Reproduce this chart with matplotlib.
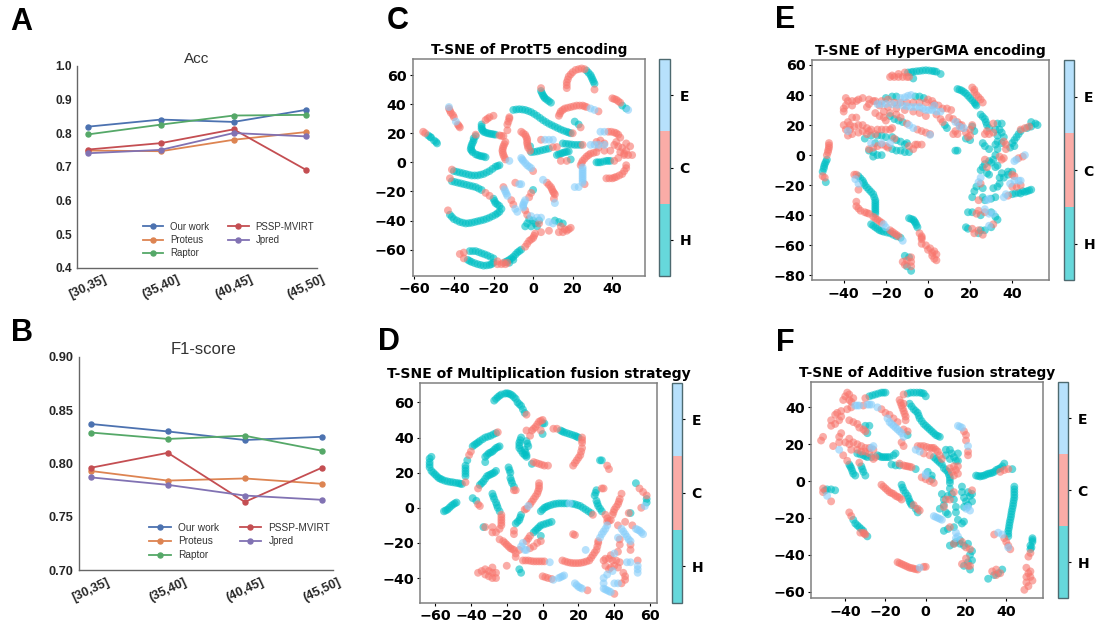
import numpy as np
import matplotlib
matplotlib.use('Agg')
import matplotlib.pyplot as plt
from matplotlib.colors import ListedColormap

W, H = 1095, 626

# line charts
bins = ['[30,35]', '(35,40]', '(40,45]', '(45,50]']
methods = ['Our work', 'Proteus', 'Raptor', 'PSSP-MVIRT', 'Jpred']
line_colors = ['#4C72B0', '#DD8452', '#55A868', '#C44E52', '#8172B3']
acc_our = [0.819, 0.840, 0.833, 0.869]
acc_proteus = [0.748, 0.746, 0.780, 0.803]
acc_raptor = [0.796, 0.825, 0.852, 0.854]
acc_pssp = [0.751, 0.770, 0.811, 0.690]
acc_jpred = [0.740, 0.750, 0.800, 0.790]
f1_our = [0.837, 0.830, 0.822, 0.825]
f1_proteus = [0.793, 0.784, 0.786, 0.781]
f1_raptor = [0.829, 0.823, 0.826, 0.812]
f1_pssp = [0.796, 0.810, 0.764, 0.796]
f1_jpred = [0.787, 0.780, 0.770, 0.766]

# t-SNE panel C
c_h = [(-53,18.5),(-51.5,17),(-50,15),(-48.5,13),(-29,18),(-30,15),(-31,12),(-31.5,9),(-30.5,7),(-29,5.5),(-27,4.5),(-25,4),(-24,3.5),
       (-26,26),(-26,23),(-25,21),(-23,20),(-21,19.5),(-19,19),(-10,36),(-7,36.5),(-4,36),(-1,34.5),(2,32),(5,29),(8,26.5),(11,24.5),(14,22.5),(17,21),(19,20),
       (-1,7),(2,7.5),(5,8.5),(8,9.5),(-1.5,11),(15,13),(18,12.5),(21,12),(24,12),(27,63),(29,60),(30,57),(31,54),(4,49),(5,46),(6,44),(8,42),(9,41),
       (21,28),(23,26),(45,39),(47,37),(32,0),(34,0),(37,1),(39,1),(12,5),(14,6),(16,7),(18,7.5),(19,2),
       (-40,-6),(-37,-7),(-34,-8),(-31,-9),(-28,-9),(-25,-8),(-22,-6),(-19,-3),(-17,-2),(-41,-13),(-38,-14),(-35,-15),(-32,-16),(-29,-17),(-26,-19),
       (-20,-25),(-19,-28),(-17,-30),(-16,-32),(-42,-36),(-40,-39),(-37,-41),(-34,-42),(-31,-41.5),(-28,-40.5),(-25,-39.5),(-22,-38),(-19,-36),(-17,-34),
       (0,-19),(-2,-39),(0,-40),(-3,-42),(-1,-44),(1,-42),(-4,-44),(2,-44),(3,-40),(11,-40),(13,-41),(15,-42),
       (-6,-60),(-8,-62),(-10,-65),(-12,-67),(-14,-68.5),(-32,-61),(-29,-61),(-26,-62.5),(-23,-64),(-20,-66),(-33,-67),(-31,-68.5),(-28,-70),(-25,-71),(-22,-70.5),(-20,-69),(-12,-69),(-10,-67),
       (-52,17.5),(-49,14),(-30,16.5),(-30.5,13.5),(-31.3,10.5),(-31,8),(-28,5),(-26,4.2),(-26,24.5),(-25.5,22),(-24,20.5),(-22,19.7),(-20,19.2),(-8.5,36.3),(-5.5,36.3),(-2.5,35.3),(0.5,33.3),(3.5,30.5),(6.5,27.7),(9.5,25.5),(12.5,23.5),(15.5,21.7),(18,20.5),
       (0.5,7.2),(3.5,8),(6.5,9),(16.5,12.7),(19.5,12.2),(22.5,12),(28,61.5),(29.5,58.5),(30.5,55.5),(4.5,47.5),(5.5,45),(7,43),(33,0),(35.5,0.5),(38,1),(13,5.5),(15,6.5),(17,7.2),
       (-38.5,-6.5),(-35.5,-7.5),(-32.5,-8.5),(-29.5,-9),(-26.5,-8.5),(-23.5,-7),(-20.5,-4.5),(-18,-2.5),(-39.5,-13.5),(-36.5,-14.5),(-33.5,-15.5),(-30.5,-16.5),(-27.5,-18),(-19.5,-26.5),(-18,-29),
       (-41,-37.5),(-38.5,-40),(-35.5,-41.5),(-32.5,-41.8),(-29.5,-41),(-26.5,-40),(-23.5,-38.8),(-20.5,-37),(-18,-35),(-7,-61),(-9,-63.5),(-11,-66),(-13,-67.8),(-30.5,-61),(-27.5,-61.7),(-24.5,-63.2),(-21.5,-65),(-32,-67.8),(-29.5,-69.3),(-26.5,-70.5),(-23.5,-70.8),(-21,-70)]
c_c = [(-55.5,21),(-54.5,20),(-42.5,37),(-41.5,34),(-40,31),(-38,26),(-37,24),(-29,19),(-20,32),(-22,31),(-24,29),(-17,18.5),(-15,18),(-12,30),(-13,26),(-13,22),(-12,31),
       (-14,14),(-15,11),(-15.5,8),(-15,5),(-14,2),(20,20),(-6,21),(-4,19),(-3,16),(-3,13),(-2.5,10),(-1.5,8),(10,10.5),(12,10.5),(4,15.5),(25,12),
       (17,51),(17,55),(18,59),(20,62),(23,64),(26,64),(31,50),(4,51),(13,32),(14,35),(16,37),(19,38),(22,39),(25,39),(27,38),(33,35),(24,24),(40,44),(42,43),(44,41),
       (38,21),(41,20.5),(43,19),(44,17),(32,14),(34,15),(36,13),(33,10),(36,8),(39,8),(41,12),(43,11),(45,10),(47,8),(44,7),(46,5),(48,5),(50,5),(49,11),(47,13),(42,14),(46,6),(41,1),(43,3),
       (37,-11),(40,-11),(42,-10),(45,-8),(47,-4),(47,-2),(32,7),(29,6),(27,4),(25,1),(24,-2),(26,-15),(14,1),(17,1),(0,-6),(-41,-5),(-42,-11),(-24,-21),(-22,-23),(-43,-33),
       (-15,-17),(-11,-26),(-10,-29),(-9,-14),(7,-14),(9,-17),(10,-20),(11,-22),(10.5,-25),(-1,-21),(-2,-24),(-4,-33),(-3,-36),
       (3,-42),(14,-44),(16,-46),(18,-46),(13,-48),(15,-48),(19,-45),(17,-47),(8,-47),(4,-48),(1,-49),(0,-52),(-2,-54),(-4,-58),
       (-37,-63),(-35,-62),(-18,-68),(-15,-69),(-13,-69),(-35,-66),(-18,-70),(-16,-70),(-14,-70),
       (-42,35.5),(-40.5,32.5),(-37.5,25),(-23,30),(-16,18.2),(-12.5,28),(-14.5,12.5),(-15.3,9.5),(-15.3,6.5),(-14.5,3.5),(-5,20),(-3.5,17.5),(-3,14.5),(-2.7,11.5),(17,53),(17.5,57),(19,60.5),(21.5,63.5),(24.5,64.5),
       (13.5,33.5),(15,36),(17.5,37.5),(20.5,38.5),(23.5,39),(26,38.5),(41,43.5),(43,42),(39.5,21),(42,20),(28,5),(26,2.5),(24.5,-0.5),(30.5,6.5),(38.5,-11),(41,-10.5),(43.5,-9),(46,-6),
       (8,-15.5),(9.5,-18.5),(10.5,-21),(0.5,-50.5),(-1,-53),(-3,-56)]
c_e = [(-42.5,38),(-39,28),(-12,1),(6,15.5),(8,15.5),(10,15.5),(29,37),(31,36),(48,36),(34,21),(36,21),(29,12),(31,12),(33,12),(36,12),(25,-5),(25,-8),(25,-11),(25,-14),(21,-17),(23,-17),
       (-6,3),(-5,1),(-3,-2),(-1,-4),(-14,-20),(-13,-23),(-9,-32),(-8,-34),(-7,-15),(-6,-15),(5,-12),(11,-28),(-4,-26),(-5,-29),(-5,-31),(-1,-37),(2,-38),(4,-38),(8,-41),(10,-42),
       (25,-3.5),(25,-6.5),(25,-9.5),(25,-12.5),(-4,-0.5),(-2,-3),(-5.5,2),(-14.5,-18.5),(-13.5,-21.5),(-4.5,-27.5),(-5,-30)]

# t-SNE panel E
e_h = [(-9.5,55),(-7,55.5),(-4,56),(-1,56.5),(2,56),(4,55.5),(6,54),(-7,51),(14,44),(16,43),(18,41),(20,38),(22,35),(23,33),(25,27),(27,24),(28,20),(29,18),(26,8),(27,6),(29,4),
       (49,19),(51,21),(52,20),(49,22),(47,18),(43,14),(42,12),(41,10),(40,8),(39,5),(41,6),(44,16),(33,21),(35,21),(32,17),(34,17),(33,13),(35,15),(36,12),(33,9),(35,8),(32,7),
       (33,4),(32,0),(31,-3),(33,-7),(29,-4),(27,-6),(26,-8),(25,-10),(32,-8),(30,-5),(28,-12),(29,-13),(34,-15),(35,-12),(38,-11),(40,-11),(36,-15),(38,-13),(31,-22),(33,-21),(34,-19),
       (40,-26),(43,-25),(45,-24),(47,-24),(49,-23),(22,-24),(21,-28),(23,-21),(26,-22),(26,-28),(27,-30),(30,-29),(32,-28),(19,-38),(21,-38),(25,-40),(30,-38),(32,-41),(33,-43),
       (18,-48),(19,-49),(25,-50),(24,-52),(27,-50),(30,-48),(-48,-3),(-49,-6),(-49.5,-9),(-50,-11),(-48.5,-18),(-33,-14),(-31,-17),(-30,-20),(-28,-23),(-26,-26),(-25,-30),(-25,-33),(-25,-36),(-25,-39),
       (-27,-46),(-25,-48),(-23,-50),(-21,-51),(-18,-52),(-15,-54),(-13,-55),(-9,-42),(-7,-43),(-6,-45),(-5,-48),(-11,-67),(-9,-68),(-10,-74),(-8,-77),
       (-20,38),(-17,39),(-15,39),(-6,39),(-4,39),(-2,38),(8,20),(9,18),(18,11),(20,10),(22,16),(21,19),(13,3),(14,3),(-18,26),(-16,24),(-14,23),(-12,22),
       (-30,11),(-27,13),(-24,13),(-22,13),(-20,12),(-17,12),(-15,10),(-13,9),(-11,7),(-10,8),(-17,4),(-15,3),(-13,3),(-11,2),(-9,2),(-28,3),(-26,2),(-24,0),(-22,0),(-26,-1),(-25,8),
       (-8,55.2),(-5.5,55.8),(-2.5,56.3),(0.5,56.3),(3,55.8),(15,43.5),(17,42),(19,39.5),(21,36.5),(22.5,34),(26,25.5),(27.5,22),(-48.5,-4.5),(-49.3,-7.5),(-32,-15.5),(-30.5,-18.5),(-29,-21.5),(-27,-24.5),(-25.5,-28),(-25,-31.5),(-25,-34.5),(-25,-37.5),
       (-26,-47),(-24,-49),(-22,-50.5),(-19.5,-51.5),(-16.5,-53),(-8,-42.5),(-6.5,-44),(-5.5,-46.5),(44,-25.5),(46,-24.5),(48,-23.5),(41.5,-25.5)]
e_c = [(-18,52),(-16,52),(-14,52),(-12,52),(-10,52),(-17,53),(-14,54),(-11,55),(-9,52),(21,45),(22,42),(23,40),(25,37),(26,35),(28,16),(27,14),(44,17),(46,18),(48,19),(31,21),(31,15),(36,9),(37,7),(37,4),(29,14),
       (35,-3),(36,-2),(34,-1),(43,-2),(45,-1),(27,-3),(28,-8),(40,-13),(41,-14),(44,-20),(42,-21),(40,-21),(38,-27),(25,-19),(24,-30),(23,-39),(27,-38),(24,-37),(31,-46),(21,-49),(22,-52),(26,-53),(24,-50),
       (-47,8),(-47,5),(-47.5,2),(-48,0),(-50,-14),(-49,-15),(-35,-13),(-34,-13),(-33,-23),(-34,-31),(-34,-34),(-32,-37),(-30,-38),(-28,-39),(-26,-41),(-24,-43),(-22,-45),(-18,-50),(-16,-52),(-14,-54),
       (-4,-52),(-3,-54),(-3,-56),(-3,-59),(-1,-60),(1,-62),(3,-64),(4,-66),(2,-67),(3,-69),(4,-70),(0,-63),(2,-65),(-12,-71),(-10,-70),(-8,-71),(-8,-74),(-11,-73),(-8,-68),
       (-39,38),(-38,36),(-39,33),(-40,31),(-40,29),(-36,36),(-34,36),(-33,37),(-31,38),(-36,33),(-28,37),(-28,34),(-29,32),(-26,36),(0,37),(2,36),(3,34),(5,33),(7,31),(9,31),(11,30),
       (-25,36),(-22,36),(-19,37),(-16,35),(-13,35),(-10,35),(-7,35),(-4,35),(-1,35),(2,33),(-23,33),(-19,32),(-15,31),(-11,30),(-7,29),(-4,28),(-1,26),(-18,28),(-15,27),(-13,25),
       (4,27),(6,24),(7,22),(10,25),(12,24),(14,22),(15,20),(16,18),(12,14),(13,16),(14,14),(16,20),(20,17),(20,13),(18,15),(19,12),(21,20),
       (-25,28),(-23,26),(-21,25),(-20,23),(-21,29),(-10,21),(-5,17),(-3,16),(-1,15),(1,14),(-40,20),(-38,22),(-36,25),(-34,25),(-37,20),(-39,17),(-37,17),(-35,19),(-33,20),(-31,20),(-29,18),(-27,17),(-24,17),(-22,17),(-20,17),
       (-33,15),(-31,16),(-29,14),(-28,16),(-25,14),(-36,14),(-38,13),(-28,4),(-26,5),(-24,6),(-22,7),(-20,6),(-19,5),(-16,11),(-9,6),(-7,4),(-6,7),(-5,7),(-3,7),(-18,17),(-17,18),
       (22,43.5),(24,38.5),(-47,6.5),(-47.3,3.5),(-33,-35.5),(-29,-38.5),(-25,-42),(-23,-44),(-17,-51),(-15,-53),(-3,-55)]
e_e = [(41,-4),(46,0),(42,-3),(39,-19),(43,-17),(41,-17),(37,-26),(44,-17),(36,-28),(25,-15),(24,-18),(28,-30),(29,-29),(27,-36),(29,-39),(31,-39),(29,-47),(-34.5,-16),(-33,-19),(-21,-46),(-20,-48),(-12,-57),
       (-13,38),(-8,40),(-24,34),(-20,34),(-17,34),(-12,33),(-8,32),(-4,32),(-1,30),(2,30),(3,33),(4,29),(6,29),(13,22),(15,19),(17,18),(-9,20),(-7,18),(1,13.5),(-38,16),(-27,8),(-22,8),(-18,8),
       (-22,34),(-14.5,33.5),(-10,32.5),(-6,32),(-2.5,31),(0.5,30),(-11,38.5),(-9.5,39.5)]

# t-SNE panel D
d_h = [(-27,61),(-25,63),(-23,64.5),(-21,65),(-19,65),(-17,64),(-15,62),(-14,60),(-12,58),(-11,56),(-10,54),(-62,29),(-63,26),(-63,23),(-62,21),(-60,19),(-58,17),(-56,16),(-53,15),(-50,14.5),(-47,14),(-45,13.5),
       (-43,18),(-43,21),(-43,24),(-42,27),(-39,35),(-37,36.5),(-35,38),(-32,40),(-29,41),(-26,42.5),(-32,26),(-32,29),(-30,31),(-28,32),(-26,34),(-24,35),(-35,13),(-33,15),(-31,18),(-29,19),(-27,20),(-26,21),
       (-19,23),(-18,20),(-18,17),(-17,14),(-16,12),(-55,-2),(-53,-1),(-51,1),(-49,2.5),(-48,3),(-39,5.5),(-37,4),(-28,8),(-27,5),(-26,3),(-25,0),(-24,-2),(-33,-11),
       (-12,40),(-13,37),(-13,34),(-11,31),(-9,29),(-8,35),(-9,38),(-10,33),(-9,30),(0,48),(1,48),(0,42),(-6,25),(10,44),(12,43),(15,42),(18,41),(20,40),(32,27),(33,27),(30,10),(29,7),(30,4),(31,1),(33,-2),
       (-12,-4),(-13,-7),(-15,-9),(-1,-2),(1,0),(3,1),(6,2),(9,2.5),(12,2.5),(18,2),(21,1),(24,-1),(27,-3),(5,-8),(2,-9),(-1,-10),(-3,-12),(-5,-14),(-1,-16),(-13,-35),(-12,-37),(52,14),(58,5),(58,3),(49,-3),
       (-26,62),(-24,63.8),(-20,65.2),(-18,64.6),(-16,63),(-13,59),(-63,28),(-63,24.5),(-61,20),(-59,18),(-57,16.5),(-54.5,15.4),(-51.5,14.7),(-48.5,14.2),(-46,13.7),(-43,19.5),(-43,22.5),(-38,35.8),(-36,37.2),(-33.5,39),(-30.5,40.5),(-27.5,41.8),
       (-31,30),(-29,31.5),(-27,33),(-25,34.5),(-34,14),(-32,16.5),(-30,18.5),(-28,19.5),(-18.5,21.5),(-17.5,15.5),(-54,-1.5),(-52,0),(-50,1.8),(-27.5,6.5),(-25.5,1.5),(-12.5,38.5),(-13,35.5),(-12,32.5),(-10,30),(-8.5,36.5),(-9.5,31.5),
       (11,43.5),(13.5,42.5),(16.5,41.5),(19,40.5),(29.5,8.5),(30.5,2.5),(32,-0.5),(-12.5,-5.5),(-14,-8),(0,-1),(2,0.5),(4.5,1.5),(7.5,2.3),(10.5,2.5),(13.5,2.5),(16.5,2.3),(19.5,1.5),(22.5,0),(25.5,-2),(3.5,-8.5),(0.5,-9.5),(-2,-11),(-4,-13)]
d_c = [(-9,53),(-43,14.5),(-41,30),(-40,32),(-25,43),(-36,11),(-16,10),(-15,10),(-36,2),(-35,1),(-23,-4),(-23,-7),(-23,-10),(-24,-12),(-26,-14),(-28,-14),(-28,-11),(-32,-11),
       (-9,44),(-7,41),(-6,44),(-4,46),(-2,49),(0,50),(-1,44),(-5,26),(-2,25),(1,24),(3,24),(6,45),(8,45),(22,40),(22,37),(22,34),(21,30),(19,27),(17,24),(36,24),(37,22),(35,-4),(33,11),(34,11),
       (-2,14),(-2,11),(-3,8),(-5,5),(-7,2),(-10,-1),(-16,-13),(-16,-15),(28,-4),(-7,-16),(-9,-19),(-13,-24),(-15,-26),(-15,-28),(-24,-18),(-22,-19),(-20,-21),(-18,-23),(-16,-24),
       (-1,-19),(-3,-20),(-5,-22),(-7,-23),(-11,-30),(-8,-30),(-5,-30.5),(-2,-30.5),(1,-30.5),(11,-30),(14,-31),(17,-31.5),(20,-31.5),(23,-31),(26,-30),(28,-27),(30,-24),(31,-20),(31,-19),
       (36,-8),(36,-6),(38,-7),(39,-4),(40,-1),(42,2),(43,5),(44,8),(17,-15),(18,-15.5),(-36,-37),(-34,-36),(-32,-35),(-30,-36),(-28,-34),(-26,-37),(-30,-39),(-28,-40),(-26,-40),(-28,-37),(-32,-38),(-20,-33),
       (0,-39),(3,-40),(5,-40.5),(25,-47),(40,-49),(42,-10),(50,-10),(46,-8),(54,11),(56,9),(58,7),(55,0),(48,-3),(43,-18),(43,-21),(42,-25),(38,-27),(35,-29),(34,-30),(35,-33),(49,-21),(49,-24),
       (37,-29),(39,-30),(41,-30),(43,-31),(42,-34),(40,-33),(38,-34),(37,-35),(45,-37),(46,-39),(46,-41),(44,-43),(53,-30),
       (-3,47.5),(-5,45),(-1,49.5),(-3.5,25.5),(-0.5,24.5),(22,38.5),(21.5,32),(20,28.5),(18,25.5),(-2,12.5),(-2.5,9.5),(-4,6.5),(-6,3.5),(-9,-0.5),(-8,-17.5),(-23,-5.5),(-23,-8.5),(-9.5,-30),(-6.5,-30.3),(-3.5,-30.5),(-0.5,-30.5),
       (12.5,-30.5),(15.5,-31.3),(18.5,-31.5),(21.5,-31.3),(24.5,-30.5),(27,-28.5),(29,-25.5),(30.5,-22),(39.5,-2.5),(41,0.5),(42.5,3.5),(37,-7.5),(1.5,-39.5),(-21,-20),(-19,-22),(-17,-23.5)]
d_e = [(-8,1),(15,2.5),(-11,-20),(-12,-22),(-9,-24),(-10,-24),(4,-31),(33,-15),(35,-12),(36,-10),(24,-24),(6,-41),(9,-40),(11,-39),(12,-38.5),(18,-43),(20,-45),(22,-46),(34,-43),(34,-46),(36,-47),(38,-48),
       (44,-12),(46,-15),(48,-18),(49,-19),(52,-12),(54,-13),(56,-15),(57,1),(42,-17),(40,-26),(36,-38),(39,-36),(42,-43),(40,-43),(47,-31),(49,-31),(53,-33),(53,-35),(53,-37),(34,-40),
       (34,-13.5),(32,-17),(45,-13.5),(47,-16.5),(53,-12.5),(55,-14),(10,-39.5),(19,-44),(21,-45.5),(35,-46.5),(37,-47.5)]

# t-SNE panel F
f_h = [(-9,47.5),(-6,48),(-3,48),(-1,47.5),(0,46),(-28,46),(-25,47),(-22,48),(-20,48),(-9,25),(-30,30),(-28,30),(-29,26),(-34,15),(-31,14),(-29,13),(-27,13),(-24,14),(-22,13),(-20,13),(-18,13),(-16,14),(-15,15),
       (-17,9),(-15,8.5),(-13,8.5),(-5,6.5),(-8,42),(-6,39),(-4,37),(-3,34),(-1,31),(1,29),(3,27),(5,25),(7,24),(-38,9),(-37,7),(-36,4),(-35,3),(-32,8),(-31,5),(-30,3),(-49,-4.5),(-47,-4.5),(-45,-5),(-50,-5),
       (-36,-21),(-35,-23),(-33,-25),(-31,-27),(-29,-30),(-12,-2),(-11,-5),(-9,-8),(-8,-11),(-7,-13),(-5,-15),(-4,-17),(4,13),(6,11),(8,9),(9,7),(11,5),(12,2),(12,-1),(12,-4),(1,5),(3,3),(3,1),
       (10,17),(12,17),(13,15),(14,13),(15,11),(10,14),(12,12),(16,15),(16,11),(25,3),(27,2.5),(29,3),(31,4),(33,4.5),(35,6),(37,7),(39,9.5),(43,6.5),
       (44,-3),(44,-6),(44,-9),(43.5,-12),(43,-15),(42.5,-18),(42,-21),(41.5,-24),(41,-27),(41,-30),(53,-31),(53,-33),(52,-35),(52,-37),(31,-53),(34,-51),(36,-50),(38,-48),
       (8,-7),(9,-10),(11,-8),(13,-7),(14,-10),(9,-13),(7,-15),(10,-17),(11,-18),(15,-14),(15,-17),(18,-3),(18,-6),(19,-9),(21,-6),(20,-11),(22,-8),(19,-14),(23,-11),(21,-13),(23,-7),
       (16,-21),(18,-23),(19,-22),(9,-27),(11,-26),(14,-25),(12,-35),(14,-34),(15,-33),(17,-32),(17,-34),(19,-35),(21,-34),(23,-38),(22,-40),(21,-44),(23,-43),(22,-48),(19,-46),
       (-7.5,48),(-4.5,48),(-2,47.8),(-26.5,46.5),(-23.5,47.5),(-21,48),(-21,13),(-19,13),(-23,13.5),(-32.5,14.5),(-30,13.5),(-7,40.5),(-5,38),(-3.5,35.5),(-2,32.5),(0,30),(2,28),(4,26),(6,24.5),(-37.5,8),(-36.5,5.5),(-31.5,6.5),
       (-34,-24),(-32,-26),(-11.5,-3.5),(-10,-6.5),(-8.5,-9.5),(-7.5,-12),(5,12),(7,10),(10,6),(11.5,3.5),(12,0.5),(26,2.8),(28,2.8),(30,3.5),(32,4.2),(34,5),(36,6.5),(38,8),
       (44,-4.5),(44,-7.5),(43.7,-10.5),(43.3,-13.5),(42.7,-16.5),(42.3,-19.5),(41.7,-22.5),(41.3,-25.5),(41,-28.5),(53,-32),(52.5,-36)]
f_c = [(-11,47),(-30,45),(-40,46),(-38,47),(-41,44),(-38,44),(-36,45),(-39,48),(-37,43),(-45,36),(-47,33),(-45,31),(-47,30),(-43,33),(-44,37),(-42,35),(-42,38),(-39,39),(-37,40),(-31,41),(-22,39),(-20,37),(-18,36),(-16,34),(-14,32),
       (-11,28),(-9,27),(-52,22),(-51,24),(-46,19),(-43,21),(-43,24),(-42,26),(-40,21),(-38,20),(-38,23),(-36,21),(-34,20),(-32,19),(-30,18),(-28,18),(-26,17),(-37,17),(-34,17),(-32,16),(-30,16),(-28,15),(-41,14),(-39,11),
       (-38,33),(-36,32),(-34,31),(-33,29),(-31,28),(-30,27),(-25,13),(-26,12),(-11,8.5),(-9,8),(-7,7.5),(-13,44),(-12,41),(-11,38),(-10,35),(-10,33),(-11,42),(-12,21),(-11,19),(-33,10),
       (-51,-6),(-51,-4),(-47,-11),(-38,-17),(-37,-19),(-31,-28),(-30,-29),(-22,-2),(-20,-4),(-18,-6),(-16,-7),(-14,-8.5),(-12,-10),(-6,-13),(-4,-15),(-3,-16),
       (-4,19),(-1,19),(2,18),(4,18),(6,16),(7,14),(8,12),(-1,15),(2,14),(-2,2),(0,1),(2,0),(4,-1),(12,7),(14,8),(15,6),(16,4),(14,3),(13,5),(16,8),(19,27),(20,25),(20,22),(21,16),(21,14),
       (37,5),(39,6),(41,6.5),(34,-29),(39,-31),(40,-33),(41,-35),(42,-37),(52,-39),(51,-41),(50,-47),(51,-50),(50,-52),(52,-52),(53,-54),(50,-55),(49,-59),(51,-57),(52,-49),
       (33,-49),(35,-48),(37,-50),(35,-51),(-14,-44),(-12,-45),(-10,-46),(-8,-47),(-6,-47.5),(-4,-48),(-1,-46.5),(0,-46.5),(10,-10),(12,-10),(14,-6),(9,-14),(23,-5),(12,-25),(14,-34),(18,-33),(20,-36),(22,-37),(20,-42),(18,-45),(21,-46),(22,-46),
       (-2.5,19),(0.5,18.5),(3,18),(5,17),(-21,-3),(-19,-5),(-17,-6.5),(-15,-8),(-13,-9),(-12.5,42.5),(-11.5,39.5),(-10.5,36.5),(-13,9.5),(-10,8.2),(-8,7.8),(-13,-44.5),(-11,-45.5),(-9,-46.5),(-7,-47.2),(-5,-47.8),(-32.5,-28),(-30.5,-28.5)]
f_e = [(-35,41),(-33,41),(-29,41.5),(-27,41.5),(-24,40),(-19,34),(-18,32),(-16,30),(-14,28),(-12,26),(-11,24),(-43,17),(-26,19),(-27,18),(-49,-8),(-5,17),(-3,16),(0,4),(0,3),(16,30),(18,29),(21,19),
       (36,-28),(38,-29),(41,-36),(-3,-47),(20,-15),(22,-16),(21,-14),(4,-19),(6,-20),(8,-21),(15,-28),(15,-31),(16,-30),(-17,31),(-15,29),(-13,27),(-34,41),(-28,41.5),(5,-19.5),(7,-20.5),(17,29.5)]

tsne_cmap = ListedColormap(['#00BFC4', '#F8766D', '#87CEFA'])


def px_axes(left, top, right, bottom):
    return fig.add_axes([left / W, 1 - bottom / H, (right - left) / W, (bottom - top) / H])


def line_panel(rect, series, ylim, yticks, fmt, title, title_xy, title_size, tick_size, legend_xy, legend_size, row_gap):
    ax = px_axes(*rect)
    x = np.arange(len(bins))
    for name, vals, col in zip(methods, series, line_colors):
        ax.plot(x, vals, color=col, lw=1.3, marker='o', ms=3.6, label=name)
    ax.set_xlim(-0.15, 3.15)
    ax.set_ylim(*ylim)
    ax.set_yticks(yticks, [fmt % v for v in yticks], fontweight='bold', fontsize=tick_size, color='#262626',
                  family='Liberation Sans')
    ax.set_xticks(x, bins, rotation=25, fontweight='bold', fontsize=9, color='#262626',
                  family='Liberation Sans')
    ax.tick_params(length=0, pad=4)
    for s in ['top', 'right']:
        ax.spines[s].set_visible(False)
    for s in ['left', 'bottom']:
        ax.spines[s].set_color('#666666')
        ax.spines[s].set_linewidth(1.0)
    fig.text(title_xy[0] / W, 1 - title_xy[1] / H, title, ha='center', va='center', fontsize=title_size,
             color='#333333', family='Liberation Sans')
    ax.legend(ncol=2, frameon=False, loc='lower left', bbox_to_anchor=legend_xy, borderaxespad=0,
              labelspacing=row_gap, columnspacing=2.0, handlelength=2.1, handletextpad=0.75,
              prop={'family': 'Liberation Sans', 'size': legend_size}, labelcolor='#333333')
    return ax


def tsne_panel(rect, cbar, lims, xticks, yticks, title, title_size, pts_h, pts_c, pts_e):
    ax = px_axes(*rect)
    pts = np.array(pts_h + pts_c + pts_e, dtype=float)
    labels = np.array([0] * len(pts_h) + [1] * len(pts_c) + [2] * len(pts_e))
    sc = ax.scatter(pts[:, 0], pts[:, 1], c=labels, cmap=tsne_cmap, vmin=-0.5, vmax=2.5,
                    s=32, alpha=0.6, linewidths=0)
    ax.set_xlim(lims[0], lims[1])
    ax.set_ylim(lims[2], lims[3])
    ax.set_xticks(xticks)
    ax.set_yticks(yticks)
    ax.tick_params(labelsize=10.3, length=2.5, width=0.8, pad=2)
    for lab in ax.get_xticklabels() + ax.get_yticklabels():
        lab.set_fontweight('bold')
    for s in ax.spines.values():
        s.set_color('#808080')
        s.set_linewidth(1.1)
    ax.set_title(title, fontweight='bold', fontsize=title_size, pad=3.5)
    cax = px_axes(*cbar)
    cb = fig.colorbar(sc, cax=cax, ticks=[0, 1, 2])
    cb.ax.set_yticklabels(['H', 'C', 'E'], fontweight='bold', fontsize=10)
    cb.ax.tick_params(length=2.5, width=0.8, pad=4)
    cb.outline.set_edgecolor('#4d6a70')
    cb.outline.set_linewidth(1.0)
    return ax


fig = plt.figure(figsize=(W / 100, H / 100), dpi=100)

line_panel((77.3, 65.7, 317.3, 267.7), [acc_our, acc_proteus, acc_raptor, acc_pssp, acc_jpred],
           (0.4, 1.0), [0.4, 0.5, 0.6, 0.7, 0.8, 0.9, 1.0], '%.1f', 'Acc', (197, 59), 11, 8.6,
           (0.257, 0.027), 6.9, 0.36)
line_panel((79.3, 356.7, 333.3, 570.3), [f1_our, f1_proteus, f1_raptor, f1_pssp, f1_jpred],
           (0.70, 0.90), [0.70, 0.75, 0.80, 0.85, 0.90], '%.2f', 'F1-score', (204, 349), 12, 9.2,
           (0.26, 0.028), 7.3, 0.38)

tsne_panel((412.7, 59.3, 645, 275.7), (659.3, 59.3, 670.3, 275.7), (-60.8, 56.5, -77.9, 70.8),
           [-60, -40, -20, 0, 20, 40], [-60, -40, -20, 0, 20, 40, 60], 'T-SNE of ProtT5 encoding', 9.9, c_h, c_c, c_e)
tsne_panel((811.7, 60, 1048.7, 280.3), (1063.7, 60, 1074.3, 280.3), (-55.2, 57.3, -83.3, 63.3),
           [-40, -20, 0, 20, 40], [-80, -60, -40, -20, 0, 20, 40, 60], 'T-SNE of HyperGMA encoding', 10.1, e_h, e_c, e_e)
tsne_panel((420.3, 382.7, 656.7, 603), (671.7, 382.7, 682.3, 603), (-68.2, 63.6, -54.2, 71.2),
           [-60, -40, -20, 0, 20, 40, 60], [-40, -20, 0, 20, 40, 60], 'T-SNE of Multiplication fusion strategy', 10.1, d_h, d_c, d_e)
tsne_panel((811, 382.3, 1043.3, 598.3), (1057.7, 382.3, 1068.3, 598.3), (-57, 58.4, -63.6, 53.6),
           [-40, -20, 0, 20, 40], [-60, -40, -20, 0, 20, 40], 'T-SNE of Additive fusion strategy', 9.9, f_h, f_c, f_e)

for letter, x, y in [('A', 10, 22), ('B', 11, 333), ('C', 387, 21), ('D', 378, 342), ('E', 775, 20), ('F', 776, 343)]:
    fig.text(x / W, 1 - y / H, letter, fontsize=22, fontweight='bold', family='Liberation Sans', va='center')

fig.savefig('out.png', dpi=100)
